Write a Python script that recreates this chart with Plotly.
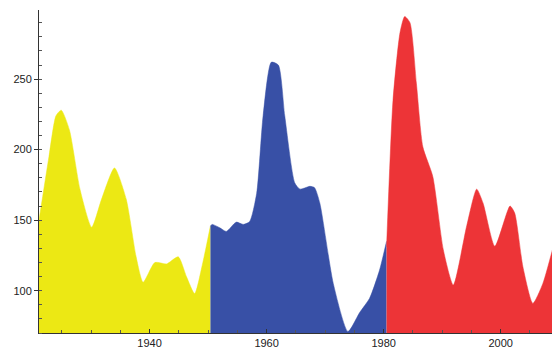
import plotly.graph_objects as go

# Data
yellow_years = [1921.1, 1922.8, 1924.0, 1924.9, 1926.3, 1928.1, 1930.1, 1931.8, 1934.0, 1936.0,
                1937.7, 1938.9, 1940.9, 1942.9, 1944.9, 1946.3, 1947.7, 1949.1, 1950.4]
yellow_vals = [150, 195, 224, 228, 214, 172, 145, 165, 187, 165,
               124, 106, 120, 119, 124, 110, 98, 120, 146]

blue_years = [1950.4, 1950.7, 1952.0, 1953.1, 1954.8, 1956.0, 1957.1, 1958.3, 1959.4, 1960.8,
              1962.0, 1963.1, 1964.8, 1965.7, 1967.4, 1968.2, 1969.1, 1971.4, 1973.9, 1975.9,
              1977.6, 1979.3, 1980.5]
blue_vals = [146, 147, 144.6, 142, 148.6, 147, 149, 169, 224, 262,
             260, 224, 176.5, 172, 174, 173, 162, 105, 71, 84.5,
             94.6, 114.6, 135]

red_years = [1980.5, 1981.6, 1982.8, 1983.6, 1984.5, 1985.6, 1986.7, 1988.4, 1990.2, 1991.9,
             1994.2, 1995.9, 1997.0, 1999.0, 2001.6, 2002.4, 2003.8, 2005.5, 2007.2, 2009.6]
red_vals = [131, 235, 283, 294.4, 290, 247, 202, 181, 129, 104,
            146, 172, 162, 131.5, 160, 155, 117, 91, 105, 141]

x_ticks = [1940, 1960, 1980, 2000]
y_ticks = [100, 150, 200, 250]

series = [
    (yellow_years, yellow_vals, "rgb(236,232,20)"),
    (blue_years, blue_vals, "rgb(56,80,166)"),
    (red_years, red_vals, "rgb(237,52,55)"),
]

fig = go.Figure()
for xs, ys, col in series:
    fig.add_trace(go.Scatter(
        x=xs, y=ys, mode="lines", fill="tozeroy", fillcolor=col,
        line=dict(color=col, width=0.5, shape="spline", smoothing=0.6),
        showlegend=False, hoverinfo="skip",
    ))

axis_font = dict(family="Liberation Sans, Arial, sans-serif", size=11, color="#222222")

# page body has an 8px default margin, so the figure is sized/offset to compensate
fig.update_layout(
    width=552, height=346,
    margin=dict(l=31, r=2, t=2, b=21),
    paper_bgcolor="white", plot_bgcolor="white",
    xaxis=dict(
        range=[1921.1, 2009.8], showgrid=False, zeroline=False, automargin=False,
        showline=True, linecolor="#333333", linewidth=1,
        tickvals=x_ticks, ticks="inside", ticklen=4, tickcolor="#333333",
        tickfont=axis_font, ticklabelstandoff=0,
        minor=dict(dtick=5, tick0=1920, ticks="inside", ticklen=3, tickcolor="#555555", showgrid=False),
    ),
    yaxis=dict(
        range=[70, 299], showgrid=False, zeroline=False, automargin=False,
        showline=True, linecolor="#333333", linewidth=1,
        tickvals=y_ticks, ticks="outside", ticklen=4, tickcolor="#333333",
        tickfont=axis_font,
        minor=dict(dtick=10, tick0=0, ticks="inside", ticklen=3, tickcolor="#555555", showgrid=False),
    ),
)

fig.write_html("out.html")
